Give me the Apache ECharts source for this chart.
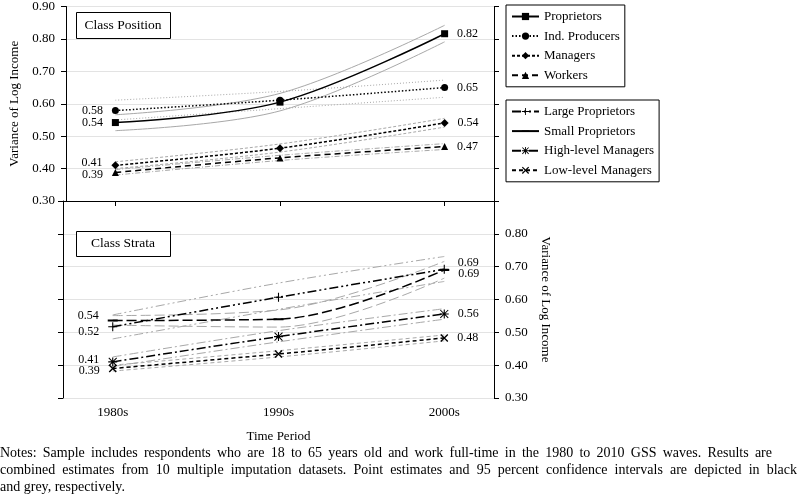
<!DOCTYPE html>
<html><head><meta charset="utf-8">
<script src="https://cdn.jsdelivr.net/npm/echarts@6/dist/echarts.min.js"></script>
<style>html,body{margin:0;padding:0;background:#fff}#c{width:800px;height:500px}</style>
</head><body><div id="c"></div>
<script>
// ---- data ----
const categories = ['1980s', '1990s', '2000s'];
const yTicks = [0.30, 0.40, 0.50, 0.60, 0.70, 0.80, 0.90];
// Class Position (top panel)
const proprietors = [0.542, 0.605, 0.816];
const proprietorsLo = [0.517, 0.578, 0.791];
const proprietorsHi = [0.566, 0.632, 0.842];
const indProducers = [0.579, 0.611, 0.650];
const indProducersLo = [0.550, 0.585, 0.620];
const indProducersHi = [0.611, 0.638, 0.673];
const managers = [0.410, 0.463, 0.541];
const managersLo = [0.400, 0.451, 0.528];
const managersHi = [0.421, 0.476, 0.555];
const workers = [0.388, 0.433, 0.468];
const workersLo = [0.380, 0.425, 0.459];
const workersHi = [0.397, 0.441, 0.477];
// Class Strata (bottom panel)
const largeProp = [0.517, 0.607, 0.692];
const largePropLo = [0.480, 0.570, 0.655];
const largePropHi = [0.553, 0.650, 0.731];
const smallProp = [0.536, 0.540, 0.690];
const smallPropLo = [0.522, 0.516, 0.665];
const smallPropHi = [0.551, 0.568, 0.716];
const highMgr = [0.410, 0.487, 0.556];
const highMgrLo = [0.396, 0.471, 0.540];
const highMgrHi = [0.425, 0.505, 0.572];
const lowMgr = [0.390, 0.434, 0.483];
const lowMgrLo = [0.382, 0.425, 0.474];
const lowMgrHi = [0.400, 0.444, 0.492];

const notes = [
  'Notes: Sample includes respondents who are 18 to 65 years old and work full-time in the 1980 to 2010 GSS waves. Results are',
  'combined estimates from 10 multiple imputation datasets. Point estimates and 95 percent confidence intervals are depicted in black',
  'and grey, respectively.'
];
const notesJustifyWidth = [772, 797, 0];

// ---- helpers ----
const FONT = '"Liberation Serif", "Times New Roman", serif';
const GREY = '#a8a8a8';
const pts = arr => arr.map((v, i) => [i, v]);
const fmt = v => Number(v).toFixed(2);

const SYM_PLUS = 'path://M4.4,0H5.6V4.4H10V5.6H5.6V10H4.4V5.6H0V4.4H4.4Z';
const SYM_DASH = 'path://M0,0L0,0Z M0,4H10V6H0Z M10,10L10,10Z';
const SYM_AST = 'path://M4.4,0H5.6V10H4.4Z M0,4.4H10V5.6H0Z M1,0.2L9.8,9 9,9.8 0.2,1Z M9,0.2 9.8,1 1,9.8 0.2,9Z';
const SYM_X = 'path://M1.2,0L9.9,8.7 8.7,9.9 0,1.2Z M8.7,0 9.9,1.2 1.2,9.9 0,8.7Z';

function labeled(arr, leftOff, rightOff) {
  return arr.map((v, i) => {
    const d = { value: [i, v] };
    if (i === 0) d.label = { show: true, position: 'left', distance: 9, offset: leftOff || [0, 0] };
    else if (i === arr.length - 1) d.label = { show: true, position: 'right', distance: 9, offset: rightOff || [0, 0] };
    return d;
  });
}

function mainSeries(name, arr, grid, dash, symbol, symbolSize, leftOff, rightOff) {
  return {
    name, type: 'line', xAxisIndex: grid, yAxisIndex: grid * 2,
    data: labeled(arr, leftOff, rightOff),
    smooth: 0.35, symbol, symbolSize, showSymbol: true,
    lineStyle: { color: '#000', width: 1.5, type: dash },
    itemStyle: { color: '#000' },
    label: { show: false, formatter: p => fmt(p.value[1]), color: '#000', fontFamily: FONT, fontSize: 12 },
    z: 5, animation: false
  };
}
function ciSeries(name, arr, grid, dash) {
  return {
    name, type: 'line', xAxisIndex: grid, yAxisIndex: grid * 2,
    data: pts(arr), smooth: 0.35, showSymbol: false, symbol: 'none',
    lineStyle: { color: GREY, width: 1, type: dash },
    silent: true, z: 2, animation: false
  };
}

const dashMgr = [3, 2];
const dashWrk = [6, 4];
const dashLP = [9, 3, 2, 3, 2, 3];
const dashSP = [10, 4];
const dashHM = [9, 3, 2, 3];
const dashLM = [4, 3];

const series = [
  ciSeries('pLo', proprietorsLo, 0, 'solid'), ciSeries('pHi', proprietorsHi, 0, 'solid'),
  ciSeries('iLo', indProducersLo, 0, [1, 2]), ciSeries('iHi', indProducersHi, 0, [1, 2]),
  ciSeries('mLo', managersLo, 0, dashMgr), ciSeries('mHi', managersHi, 0, dashMgr),
  ciSeries('wLo', workersLo, 0, [5, 2, 1, 2]), ciSeries('wHi', workersHi, 0, [5, 2, 1, 2]),
  mainSeries('Proprietors', proprietors, 0, 'solid', 'rect', 7),
  mainSeries('Ind. Producers', indProducers, 0, [1.5, 2], 'circle', 7),
  mainSeries('Managers', managers, 0, dashMgr, 'diamond', 8, [0, -2]),
  mainSeries('Workers', workers, 0, dashWrk, 'triangle', 7, [0, 2]),
  ciSeries('lpLo', largePropLo, 1, dashLP), ciSeries('lpHi', largePropHi, 1, dashLP),
  ciSeries('spLo', smallPropLo, 1, dashSP), ciSeries('spHi', smallPropHi, 1, dashSP),
  ciSeries('hmLo', highMgrLo, 1, dashHM), ciSeries('hmHi', highMgrHi, 1, dashHM),
  ciSeries('lmLo', lowMgrLo, 1, dashLM), ciSeries('lmHi', lowMgrHi, 1, dashLM),
  mainSeries('Large Proprietors', largeProp, 1, dashLP, SYM_PLUS, 9, [0, 5], [0, -6]),
  mainSeries('Small Proprietors', smallProp, 1, dashSP, SYM_DASH, 10, [0, -5], [0, 4]),
  mainSeries('High-level Managers', highMgr, 1, dashHM, SYM_AST, 9, [0, -2]),
  mainSeries('Low-level Managers', lowMgr, 1, dashLM, SYM_X, 8, [0, 2])
];

const axisLineBlack = { show: true, onZero: false, lineStyle: { color: '#000', width: 1 } };
const gridLine = { show: true, lineStyle: { color: '#e3e3e3', width: 1 } };
const yBase = { type: 'value', min: yTicks[0], max: yTicks[yTicks.length - 1], interval: 0.1 };
const nameStyle = { fontFamily: FONT, fontSize: 13, color: '#000' };
const lblStyle = { fontFamily: FONT, fontSize: 13, color: '#000' };

const legendCommon = {
  orient: 'vertical', left: 506, itemWidth: 27, itemHeight: 9, itemGap: 6.6,
  borderColor: '#000', borderWidth: 1, borderRadius: 0, padding: [5, 5, 5, 5],
  textStyle: { fontFamily: FONT, fontSize: 13, color: '#000' },
  selectedMode: false, backgroundColor: '#fff'
};

// justified notes: word placement computed from measured text widths
const NOTE_FONT = '14px ' + FONT;
const mctx = document.createElement('canvas').getContext('2d');
mctx.font = NOTE_FONT;
const noteGraphics = [];
notes.forEach((line, li) => {
  const y = 453 + li * 17;
  const target = notesJustifyWidth[li];
  const words = line.split(/\s+/);
  if (!target || words.length < 2) {
    noteGraphics.push({ type: 'text', x: 0, y, style: { text: line, font: NOTE_FONT, fill: '#000', verticalAlign: 'middle' } });
    return;
  }
  const widths = words.map(w => mctx.measureText(w).width);
  const total = widths.reduce((a, b) => a + b, 0);
  const gap = (target - total) / (words.length - 1);
  let x = 0;
  words.forEach((w, wi) => {
    noteGraphics.push({ type: 'text', x, y, style: { text: w, font: NOTE_FONT, fill: '#000', verticalAlign: 'middle' } });
    x += widths[wi] + gap;
  });
});

const option = {
  animation: false,
  backgroundColor: '#fff',
  grid: [
    { left: 63, top: 5, width: 431, height: 196 },
    { left: 63, top: 201, width: 431, height: 197 }
  ],
  xAxis: [
    { type: 'value', gridIndex: 0, min: -0.3, max: 2.3, position: 'bottom',
      axisLine: axisLineBlack, axisTick: { show: true, customValues: [0, 1, 2], length: 5, lineStyle: { color: '#000' } },
      axisLabel: { show: false }, splitLine: { show: false } },
    { type: 'value', gridIndex: 1, min: -0.3, max: 2.3, position: 'bottom',
      axisLine: { show: false, onZero: false }, axisTick: { show: false },
      axisLabel: { show: true, customValues: [0, 1, 2], formatter: v => categories[Math.round(v)], margin: 8, ...lblStyle },
      splitLine: { show: false },
      name: 'Time Period', nameLocation: 'middle', nameGap: 32, nameTextStyle: nameStyle }
  ],
  yAxis: [
    { ...yBase, gridIndex: 0, position: 'left', axisLine: axisLineBlack,
      axisTick: { show: true, length: 5, lineStyle: { color: '#000' } },
      axisLabel: { formatter: fmt, margin: 11, ...lblStyle }, splitLine: gridLine,
      name: 'Variance of Log Income', nameLocation: 'middle', nameGap: 45, nameTextStyle: nameStyle },
    { ...yBase, gridIndex: 0, position: 'right', axisLine: axisLineBlack,
      axisTick: { show: true, length: 5, lineStyle: { color: '#000' } },
      axisLabel: { show: false }, splitLine: { show: false } },
    { ...yBase, gridIndex: 1, position: 'left', axisLine: axisLineBlack,
      axisTick: { show: true, length: 5, lineStyle: { color: '#000' } },
      axisLabel: { show: false }, splitLine: gridLine },
    { ...yBase, gridIndex: 1, position: 'right', axisLine: axisLineBlack,
      axisTick: { show: true, length: 5, lineStyle: { color: '#000' } },
      axisLabel: { formatter: fmt, margin: 11, showMaxLabel: false, ...lblStyle }, splitLine: { show: false },
      name: 'Variance of Log Income', nameLocation: 'middle', nameGap: 42, nameRotate: -90, nameTextStyle: nameStyle }
  ],
  legend: [
    { ...legendCommon, top: 5, data: ['Proprietors', 'Ind. Producers', 'Managers', 'Workers'] },
    { ...legendCommon, top: 100, data: ['Large Proprietors',
      { name: 'Small Proprietors', lineStyle: { type: 'solid' } },
      'High-level Managers', 'Low-level Managers'] }
  ],
  graphic: [
    { type: 'rect', left: 76, top: 12, shape: { width: 94, height: 26 }, style: { fill: '#fff', stroke: '#000', lineWidth: 1 }, z: 10 },
    { type: 'text', x: 123, y: 25, style: { text: 'Class Position', font: '13.5px ' + FONT, fill: '#000', align: 'center', verticalAlign: 'middle' }, z: 11 },
    { type: 'rect', left: 76, top: 231, shape: { width: 94, height: 25 }, style: { fill: '#fff', stroke: '#000', lineWidth: 1 }, z: 10 },
    { type: 'text', x: 123, y: 243.5, style: { text: 'Class Strata', font: '13.5px ' + FONT, fill: '#000', align: 'center', verticalAlign: 'middle' }, z: 11 },
    ...noteGraphics
  ],
  series
};

const chart = echarts.init(document.getElementById('c'), null, { renderer: 'canvas' });
chart.setOption(option);
</script>
</body></html>
